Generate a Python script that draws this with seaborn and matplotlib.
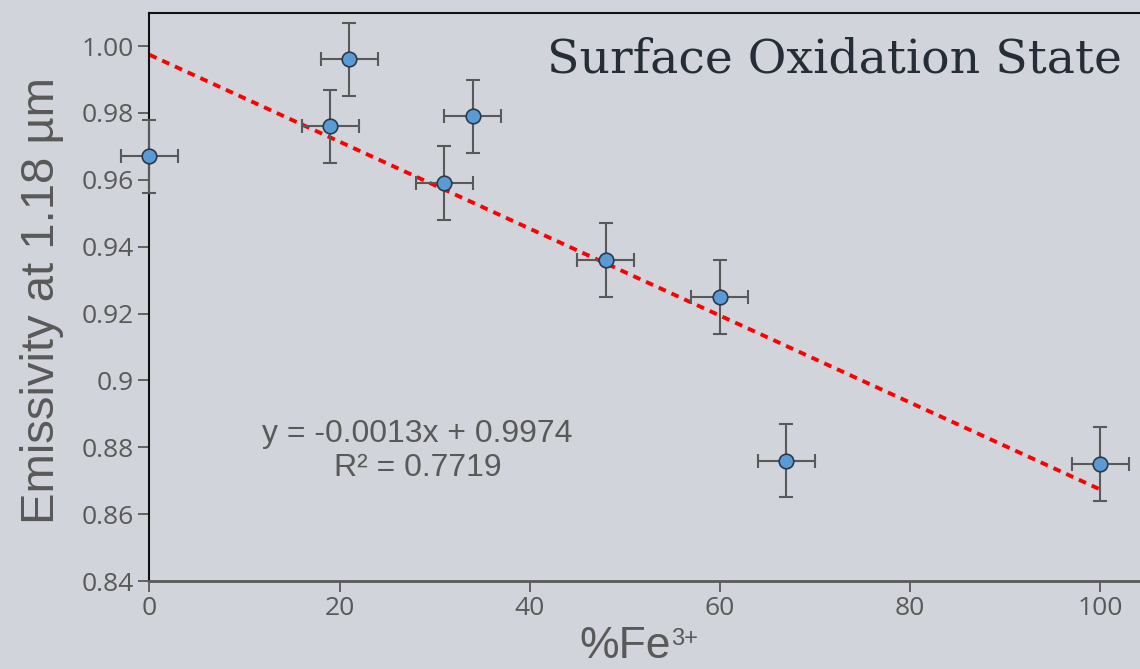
import matplotlib
matplotlib.use("Agg")
import matplotlib.pyplot as plt
import seaborn as sns
import numpy as np
import pandas as pd

# Data
fe3 = [0, 19, 21, 31, 34, 48, 60, 67, 100]
emissivity = [0.967, 0.976, 0.996, 0.959, 0.979, 0.936, 0.925, 0.876, 0.875]
x_err = [3, 3, 3, 3, 3, 3, 3, 3, 3]
y_err = [0.011, 0.011, 0.011, 0.011, 0.011, 0.011, 0.011, 0.011, 0.011]
slope = -0.0013
intercept = 0.9974
r_squared = 0.7719
x_ticks = [0, 20, 40, 60, 80, 100]
y_ticks = [0.84, 0.86, 0.88, 0.90, 0.92, 0.94, 0.96, 0.98, 1.00]
y_tick_labels = ["0.84", "0.86", "0.88", "0.9", "0.92", "0.94", "0.96", "0.98", "1.00"]

bg = "#d1d4db"
gray = "#595959"
W, H = 1140, 669

sns.set_theme(style="white")
plt.rcParams["font.family"] = ["Liberation Sans", "DejaVu Sans"]

fig = plt.figure(figsize=(11.4, 6.69), dpi=100, facecolor=bg)
ax = fig.add_axes([0.1311, 0.1315, 0.8689, 0.8491])
ax.set_facecolor(bg)

df = pd.DataFrame({"x": fe3, "y": emissivity})
trend = pd.DataFrame({"x": [0, 100]})
trend["y"] = intercept + slope * trend["x"]

sns.lineplot(data=trend, x="x", y="y", ax=ax, color="#ff0000", lw=2.8,
             linestyle=(0, (2.0, 1.6)), zorder=2)
ax.errorbar(fe3, emissivity, xerr=x_err, yerr=y_err, fmt="none",
            ecolor=gray, elinewidth=1.5, capsize=5, capthick=1.5,
            zorder=3, clip_on=False)
sns.scatterplot(data=df, x="x", y="y", ax=ax, s=110, color="#5b9bd5",
                edgecolor="#2b3a4a", linewidth=1.2, zorder=4, clip_on=False)

ax.set_xlim(0, 104.2)
ax.set_ylim(0.84, 1.0099)
ax.set_xticks(x_ticks)
ax.set_xticklabels([str(t) for t in x_ticks], family="Open Sans", fontsize=19, color=gray)
ax.set_yticks(y_ticks)
ax.set_yticklabels(y_tick_labels, family="Open Sans", fontsize=19, color=gray)
ax.tick_params(axis="both", direction="out", length=8, width=1.3, color=gray,
               bottom=True, left=True, pad=3)

for s in ["left", "top"]:
    ax.spines[s].set_color("#111111")
    ax.spines[s].set_linewidth(1.5)
ax.spines["bottom"].set_color(gray)
ax.spines["bottom"].set_linewidth(2)
ax.spines["right"].set_visible(False)

ax.set_ylabel("")
ax.set_xlabel("")
fig.text(42 / W, 1 - 300 / H, "Emissivity at 1.18 µm", rotation=90, fontsize=34,
         color=gray, ha="center", va="center")
fig.text(671 / W, 1 - 658 / H, "%Fe", fontsize=32, color=gray, ha="right", va="baseline")
fig.text(671 / W, 1 - 645 / H, "3+", fontsize=17, color=gray, ha="left", va="baseline")

ax.text(28.2, 0.8789, f"y = {slope}x + {intercept}\nR² = {r_squared}",
        fontsize=23, color=gray, ha="center", va="center", linespacing=1.2)

fig.text(1122 / W, 0.91, "Surface Oxidation State", family="DejaVu Serif",
         fontsize=34, color="#252d36", ha="right", va="center")

fig.savefig("out.png", dpi=100, facecolor=bg)
